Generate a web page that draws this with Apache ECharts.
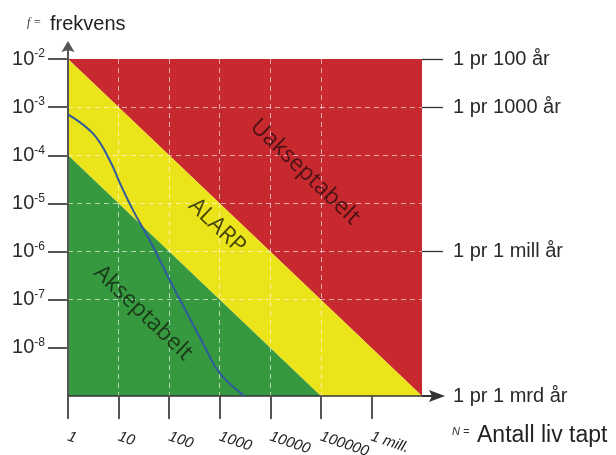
<!DOCTYPE html>
<html>
<head>
<meta charset="utf-8">
<title>Risikomatrise</title>
<script src="https://cdn.jsdelivr.net/npm/echarts@6/dist/echarts.min.js"></script>
<style>
  html, body { margin: 0; padding: 0; background: #fff; }
  #main { width: 616px; height: 455px; }
</style>
</head>
<body>
<div id="main"></div>
<script>
// --- data ---
var xRange = [1, 1e7];        // N = antall liv tapt
var yRange = [1e-9, 1e-2];    // f = frekvens
var xTicks = [1, 10, 100, 1000, 10000, 100000, 1000000];
var xTickLabels = ['1', '10', '100', '1000', '10000', '100000', '1 mill.'];
var yTicks = [1e-2, 1e-3, 1e-4, 1e-5, 1e-6, 1e-7, 1e-8];
var rightTicks = [1e-2, 1e-3, 1e-6];
var rightLabelValues = [1e-2, 1e-3, 1e-6, 1e-9];
var rightLabels = ['1 pr 100 år', '1 pr 1000 år', '1 pr 1 mill år', '1 pr 1 mrd år'];

// blue curve
var curveN = [1, 3.2, 6.8, 10.7, 19.5, 42, 105, 229, 468, 1020, 3100];
var curveF = [7.1e-4, 2.75e-4, 7.6e-5, 2.6e-5, 7.1e-6, 1.66e-6, 2.45e-7, 5.1e-8, 1.23e-8, 2.9e-9, 1e-9];

// zones [N, f]
var zoneNames = ['Uakseptabelt', 'ALARP', 'Akseptabelt'];
var zoneRed = [[1, 1e-2], [1e7, 1e-2], [1e7, 1e-9]];
var zoneYellow = [[1, 1e-2], [1e7, 1e-9], [1e5, 1e-9], [1, 1e-4]];
var zoneGreen = [[1, 1e-4], [1e5, 1e-9], [1, 1e-9]];
var zoneLabelN = [48600, 885, 30.4];
var zoneLabelF = [4.5e-5, 3.4e-6, 5.3e-8];

// --- styles ---
var zones = [zoneRed, zoneYellow, zoneGreen];
var zoneColors = ['#c8292f', '#ece41a', '#36983f'];
var zoneTextColors = ['#2a0d0d', '#1c1a06', '#14240f'];
var gridLine = { color: 'rgba(255,255,255,0.6)', type: [5, 4], width: 1 };
var xArrow = 'path://M6,0 L12,16 L6,13 L0,16 Z M5,13 L7,13 L7,23 L5,23 Z';
var yArrow = 'path://M6.5,0 L13,11 L6.5,9 L0,11 Z M5.5,9 L7.5,9 L7.5,18 L5.5,18 Z';
var font = 'Liberation Sans';

function lg(v) { return Math.log10(v); }
function exp10(v) { return Math.round(lg(v)); }

var xTickExp = xTicks.map(exp10);
var yTickExp = yTicks.map(exp10);
var rightTickExp = rightTicks.map(exp10);
var rightLabelExp = rightLabelValues.map(exp10);

var myChart = echarts.init(document.getElementById('main'));

var option = {
  animation: false,
  grid: { left: 68, top: 59, right: 194, bottom: 59, outerBoundsMode: 'none' },
  xAxis: {
    type: 'value', min: lg(xRange[0]), max: lg(xRange[1]), interval: 1, z: 3,
    axisLine: {
      onZero: false,
      lineStyle: { color: '#333', width: 1.5 },
      symbol: ['none', xArrow], symbolSize: [12, 23], symbolOffset: [0, 11.5]
    },
    axisTick: { customValues: xTickExp, length: 23, lineStyle: { color: '#555', width: 2 } },
    axisLabel: {
      customValues: xTickExp,
      formatter: function (v) { return xTickLabels[xTickExp.indexOf(Math.round(v))]; },
      rotate: -19, margin: 40,
      fontStyle: 'italic', fontSize: 15, fontFamily: font, color: '#222'
    },
    splitLine: { show: true, showMinLine: false, showMaxLine: false, lineStyle: gridLine }
  },
  yAxis: [{
    type: 'value', min: lg(yRange[0]), max: lg(yRange[1]), interval: 1, z: 3,
    axisLine: {
      onZero: false,
      lineStyle: { color: '#555', width: 2 },
      symbol: ['none', yArrow], symbolSize: [13, 18], symbolOffset: [0, 9]
    },
    axisTick: { customValues: yTickExp, length: 20, lineStyle: { color: '#555', width: 2 } },
    axisLabel: {
      customValues: yTickExp,
      margin: 23,
      formatter: function (v) { return '{b|10}{s|' + Math.round(v) + '}'; },
      rich: {
        b: { fontSize: 20, fontFamily: font, color: '#2a2a2a', lineHeight: 22 },
        s: { fontSize: 12, fontFamily: font, color: '#2a2a2a', lineHeight: 12, verticalAlign: 'top' }
      }
    },
    splitLine: { show: true, showMinLine: false, showMaxLine: false, lineStyle: gridLine }
  }, {
    type: 'value', position: 'right', min: lg(yRange[0]), max: lg(yRange[1]), interval: 1, z: 3,
    axisLine: { show: false, onZero: false },
    axisTick: { customValues: rightTickExp, length: 21, lineStyle: { color: '#333', width: 1.3 } },
    axisLabel: {
      customValues: rightLabelExp,
      margin: 31,
      formatter: function (v) { return rightLabels[rightLabelExp.indexOf(Math.round(v))]; },
      fontSize: 20, fontFamily: font, color: '#2a2a2a'
    },
    splitLine: { show: false }
  }],
  graphic: [
    { type: 'text', left: 27, top: 17, style: { text: 'f =', font: 'italic 12px "Liberation Serif"', fill: '#333' } },
    { type: 'text', left: 50, top: 14, style: { text: 'frekvens', font: '20px "Liberation Sans"', fill: '#222' } },
    { type: 'text', left: 452, top: 426, style: { text: 'N =', font: 'italic 11px "Liberation Sans"', fill: '#333' } },
    { type: 'text', left: 477, top: 424, style: { text: 'Antall liv tapt', font: '23px "Liberation Sans"', fill: '#222' } }
  ],
  series: [{
    type: 'custom',
    z: 1,
    silent: true,
    data: zones.map(function (z) { return [lg(z[0][0]), lg(z[0][1])]; }),
    renderItem: function (params, api) {
      var pts = zones[params.dataIndex].map(function (p) {
        return api.coord([lg(p[0]), lg(p[1])]);
      });
      return { type: 'polygon', shape: { points: pts }, style: { fill: zoneColors[params.dataIndex] } };
    }
  }, {
    type: 'line',
    z: 5,
    smooth: 0.4,
    showSymbol: false,
    lineStyle: { color: '#2f5b9e', width: 2 },
    data: curveN.map(function (n, i) { return [lg(n), lg(curveF[i])]; })
  }, {
    type: 'scatter',
    z: 6,
    symbolSize: 1,
    itemStyle: { color: 'rgba(0,0,0,0)' },
    label: {
      show: true, position: 'inside', formatter: '{b}', rotate: -43.6,
      fontSize: 23, fontFamily: 'Open Sans'
    },
    data: zoneNames.map(function (n, i) {
      return { name: n, value: [lg(zoneLabelN[i]), lg(zoneLabelF[i])], label: { color: zoneTextColors[i] } };
    })
  }]
};

myChart.setOption(option);
</script>
</body>
</html>
